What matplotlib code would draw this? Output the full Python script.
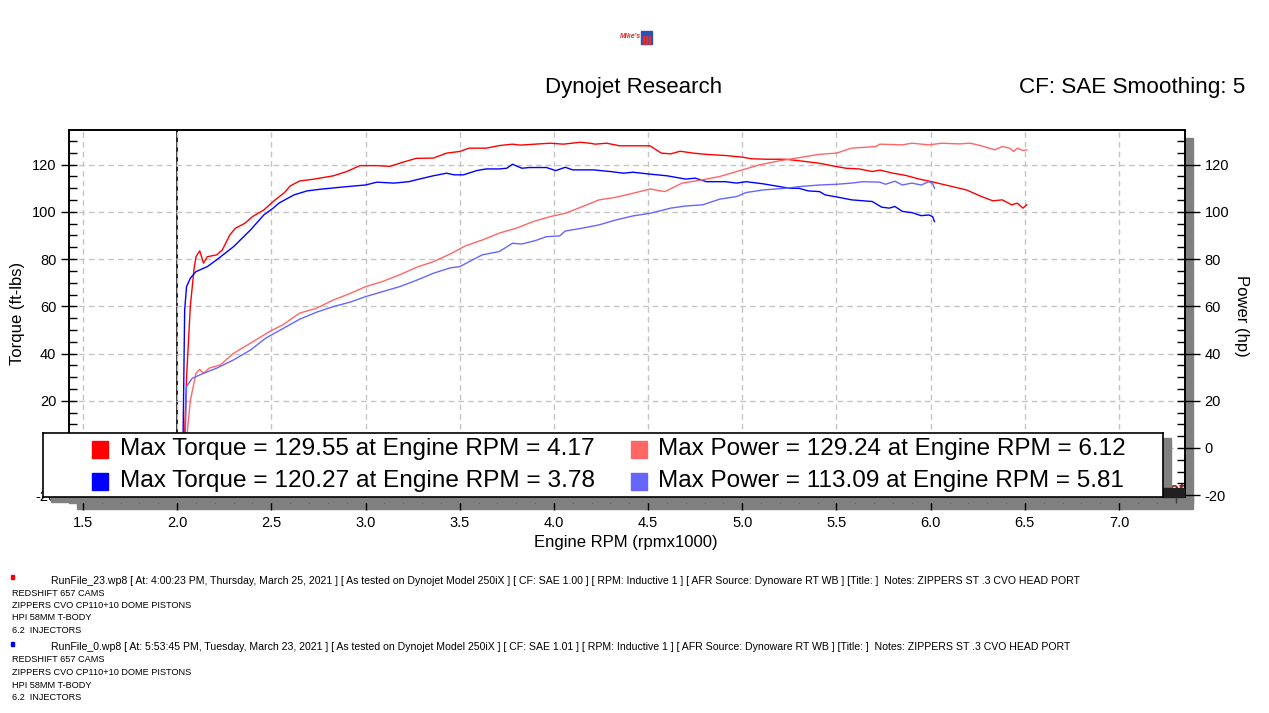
import matplotlib
matplotlib.use('Agg')
import matplotlib.pyplot as plt
from matplotlib.patches import Rectangle
from matplotlib.ticker import MultipleLocator

plt.rcParams['font.family'] = ['Liberation Sans', 'DejaVu Sans']
plt.rcParams['axes.unicode_minus'] = False

# ---- run 1 (red) : RunFile_23 ----
rpm_tq1 = [2.035, 2.05, 2.07, 2.09, 2.10, 2.12, 2.14, 2.16, 2.21, 2.24, 2.28, 2.31, 2.36, 2.40, 2.46,
           2.51, 2.54, 2.57, 2.60, 2.65, 2.72, 2.83, 2.90, 2.97, 3.06, 3.13, 3.20, 3.27, 3.36, 3.43,
           3.50, 3.55, 3.64, 3.71, 3.78, 3.82, 3.90, 3.98, 4.05, 4.14, 4.19, 4.22, 4.28, 4.35, 4.51,
           4.57, 4.62, 4.67, 4.74, 4.82, 4.91, 5.00, 5.05, 5.14, 5.23, 5.32, 5.41, 5.50, 5.55, 5.62,
           5.69, 5.73, 5.80, 5.87, 5.94, 6.01, 6.10, 6.19, 6.27, 6.33, 6.38, 6.43, 6.46, 6.49, 6.51]
tq1 = [-5, 30, 60, 76, 81, 83.5, 78.3, 81, 81.8, 83.9, 90.3, 93.1, 95.2, 98, 100.8,
       104.4, 106.3, 108.2, 111, 113.1, 113.8, 115.3, 117.1, 119.6, 119.6, 119.3, 121.1, 122.7, 122.8, 124.9,
       125.6, 127, 127, 128.1, 128.7, 128.3, 128.7, 129.1, 128.7, 129.5, 129.1, 128.7, 129.1, 128, 128,
       124.9, 124.6, 125.7, 124.9, 124.3, 123.9, 123.2, 122.5, 122.3, 122.3, 121.5, 120.6, 119.2, 118.5, 118.2,
       117.1, 117.7, 116.4, 115.4, 113.9, 112.7, 111, 109.3, 106.5, 104.7, 105.1, 103, 103.7, 101.6, 103]

rpm_hp1 = [2.04, 2.07, 2.10, 2.12, 2.14, 2.17, 2.23, 2.30, 2.39, 2.49, 2.56, 2.65, 2.74, 2.83, 2.92,
           3.00, 3.09, 3.18, 3.27, 3.36, 3.45, 3.53, 3.62, 3.71, 3.80, 3.89, 3.98, 4.06, 4.15, 4.24,
           4.33, 4.42, 4.51, 4.59, 4.68, 4.79, 4.88, 5.00, 5.09, 5.20, 5.28, 5.41, 5.50, 5.58, 5.71,
           5.73, 5.85, 5.90, 5.99, 6.06, 6.15, 6.21, 6.27, 6.34, 6.38, 6.42, 6.44, 6.46, 6.49, 6.51]
hp1 = [-5, 20, 31.6, 33.3, 31.6, 33.8, 35.2, 40.1, 44.4, 49.3, 52.1, 57.1, 59.2, 62.7, 65.5,
       68.3, 70.5, 73.3, 76.5, 78.9, 82.2, 85.6, 88.1, 91, 93.1, 95.9, 98, 99.4, 102.2, 105.1,
       106.2, 107.9, 109.7, 108.6, 112.2, 113.6, 115, 117.8, 119.9, 121.7, 122.7, 124.4, 124.9, 127, 127.7,
       128.7, 128.4, 129.1, 128.4, 129.1, 128.8, 129.1, 128, 126.3, 127.7, 127, 125.6, 127, 126, 126.3]

# ---- run 2 (blue) : RunFile_0 ----
rpm_tq2 = [2.03, 2.04, 2.05, 2.07, 2.10, 2.16, 2.21, 2.30, 2.39, 2.46, 2.51, 2.54, 2.62, 2.69, 2.76,
           2.90, 3.00, 3.06, 3.15, 3.23, 3.29, 3.36, 3.43, 3.47, 3.52, 3.59, 3.64, 3.71, 3.75, 3.78,
           3.83, 3.87, 3.96, 4.01, 4.06, 4.10, 4.21, 4.30, 4.37, 4.42, 4.51, 4.60, 4.70, 4.75, 4.81,
           4.91, 4.97, 5.02, 5.11, 5.20, 5.25, 5.30, 5.35, 5.41, 5.44, 5.51, 5.58, 5.69, 5.74, 5.78,
           5.81, 5.85, 5.90, 5.95, 5.99, 6.01, 6.02]
tq2 = [-5, 58.5, 68.3, 71.9, 74.7, 76.8, 79.7, 85.3, 92.4, 98.7, 101.6, 103.7, 107.2, 108.9, 109.6,
       110.7, 111.4, 112.6, 112.2, 112.8, 114, 115.3, 116.4, 115.7, 115.7, 117.5, 118.2, 118.2, 118.5, 120.2,
       118.5, 118.8, 118.8, 117.5, 118.9, 117.8, 117.8, 117.1, 116.4, 116.8, 116, 115.3, 113.9, 114.3, 112.8,
       112.8, 112.2, 112.8, 111.9, 110.7, 110, 110, 108.9, 108.6, 107.2, 106.2, 105.1, 104.4, 102, 101.6,
       102.3, 100.2, 99.7, 98.4, 98.7, 98, 95.9]

rpm_hp2 = [2.04, 2.05, 2.08, 2.14, 2.21, 2.30, 2.39, 2.47, 2.56, 2.65, 2.74, 2.83, 2.92, 3.00, 3.09,
           3.18, 3.27, 3.36, 3.45, 3.50, 3.55, 3.62, 3.71, 3.78, 3.83, 3.90, 3.96, 4.03, 4.06, 4.15,
           4.24, 4.33, 4.42, 4.51, 4.62, 4.70, 4.79, 4.88, 4.97, 5.02, 5.11, 5.23, 5.30, 5.41, 5.50,
           5.58, 5.64, 5.73, 5.76, 5.81, 5.85, 5.90, 5.95, 5.99, 6.01, 6.02]
hp2 = [-5, 26, 29.5, 31.6, 33.8, 37.3, 41.5, 46.5, 50.5, 54.5, 57.5, 59.9, 61.8, 64.1, 66.2,
       68.3, 71, 74, 76.3, 76.8, 78.9, 81.8, 83.2, 86.7, 86.4, 87.8, 89.5, 89.8, 91.9, 93.1,
       94.5, 96.6, 98.3, 99.4, 101.6, 102.5, 103, 105.4, 106.5, 108.2, 109.3, 110, 110.7, 111.4, 111.7,
       112.2, 112.8, 112.6, 111.7, 113, 111.4, 112.2, 111.4, 112.8, 112.2, 110]

# legend values (as reported by the dyno software)
max_tq = ['129.55', '120.27']
max_tq_rpm = ['4.17', '3.78']
max_hp = ['129.24', '113.09']
max_hp_rpm = ['6.12', '5.81']

run_colors = ['#ff0000', '#0000ff']
hp_colors = ['#ff6666', '#6666ff']

run_headers = [
    'RunFile_23.wp8 [ At: 4:00:23 PM, Thursday, March 25, 2021 ] [ As tested on Dynojet Model 250iX ] [ CF: SAE 1.00 ] '
    '[ RPM: Inductive 1 ] [ AFR Source: Dynoware RT WB ] [Title: ]  Notes: ZIPPERS ST .3 CVO HEAD PORT',
    'RunFile_0.wp8 [ At: 5:53:45 PM, Tuesday, March 23, 2021 ] [ As tested on Dynojet Model 250iX ] [ CF: SAE 1.01 ] '
    '[ RPM: Inductive 1 ] [ AFR Source: Dynoware RT WB ] [Title: ]  Notes: ZIPPERS ST .3 CVO HEAD PORT',
]
run_notes = ['REDSHIFT 657 CAMS', 'ZIPPERS CVO CP110+10 DOME PISTONS', 'HPI 58MM T-BODY', '6.2  INJECTORS']

W, H = 1269, 713


def fx(x):
    return x / W


def fy(y):
    return 1 - y / H


def fig_rect(x0, y0, x1, y1, color, z):
    # rectangle given in pixel coords (top-left origin)
    fig.patches.append(Rectangle((fx(x0), fy(y1)), (x1 - x0) / W, (y1 - y0) / H,
                                 transform=fig.transFigure, color=color, zorder=z))


fig = plt.figure(figsize=(W / 100, H / 100), dpi=100)

# small shop logo at the top
fig_rect(641, 31, 652, 44, '#3050b0', 1)
for k in range(3):
    fig_rect(643 + 3 * k, 36, 644.5 + 3 * k, 44, '#e03030', 2)
fig.text(fx(630), fy(37), "Mike's", ha='center', va='center', fontsize=5,
         color='#d03030', style='italic', fontweight='bold')

# grey drop shadows behind the plot frame
fig_rect(77, 138, 1193, 509, '#808080', -2)
fig_rect(69, 497, 1193, 503, '#808080', -2)

ax = fig.add_axes([fx(69), fy(497), (1185 - 69) / W, (497 - 130) / H])
ax2 = ax.twinx()
for a in (ax, ax2):
    a.set_xlim(1.426, 7.35)
    a.set_ylim(-20.8, 134.7)
    a.yaxis.set_major_locator(MultipleLocator(20))
    a.yaxis.set_minor_locator(MultipleLocator(5))
    a.yaxis.remove_overlapping_locs = False
    for s in a.spines.values():
        s.set_linewidth(1.2)

ax.xaxis.set_major_locator(MultipleLocator(0.5))
ax.xaxis.set_minor_locator(MultipleLocator(0.1))
ax.grid(True, which='major', linestyle=(0, (4, 3)), color='#c4c4c4', linewidth=1)
ax.axvline(2.0, color='black', linewidth=1.2, zorder=1)

# dynojet watermark in the lower right corner (mostly hidden by the legend)
ax.text(1.0, 0.0, 'dynojet', transform=ax.transAxes, ha='right', va='bottom',
        fontsize=12, color='#8b1a1a', style='italic', fontweight='bold', zorder=1)

ax.plot(rpm_tq1, tq1, color=run_colors[0], linewidth=1.0, zorder=3)
ax.plot(rpm_tq2, tq2, color=run_colors[1], linewidth=1.0, zorder=3)
ax2.plot(rpm_hp1, hp1, color=hp_colors[0], linewidth=1.0)
ax2.plot(rpm_hp2, hp2, color=hp_colors[1], linewidth=1.0)

ax.tick_params(axis='y', which='major', direction='out', length=6, width=1, labelsize=10.5, pad=3)
ax.tick_params(axis='y', which='minor', direction='in', length=6, width=1)
ax2.tick_params(axis='y', which='major', direction='out', length=11, width=1, labelsize=10.5, pad=3)
ax2.tick_params(axis='y', which='minor', direction='in', length=6, width=1)
ax.tick_params(axis='x', which='major', direction='out', length=9.5, width=1, labelsize=10.5, pad=4)
ax.tick_params(axis='x', which='minor', direction='out', length=4, width=1, color='#404040')

fig.text(fx(18), fy(313), 'Torque (ft-lbs)', rotation=90, ha='center', va='center', fontsize=12)
fig.text(fx(1242), fy(316), 'Power (hp)', rotation=270, ha='center', va='center', fontsize=12)
fig.text(fx(626), fy(543), 'Engine RPM (rpmx1000)', ha='center', va='center', fontsize=12)

fig.text(fx(634), fy(87), 'Dynojet Research', ha='center', va='center', fontsize=16)
fig.text(fx(1245), fy(87), 'CF: SAE Smoothing: 5', ha='right', va='center', fontsize=16.2)

# legend box with its own shadow
fig_rect(51, 438, 1171, 502, '#808080', 4)
fig_rect(1163, 488, 1184, 497, '#202020', 4)
leg = fig.add_axes([fx(43), fy(497), 1120 / W, 64 / H], zorder=5)
leg.set_xlim(0, 1120)
leg.set_ylim(64, 0)
leg.set_xticks([])
leg.set_yticks([])
for s in leg.spines.values():
    s.set_linewidth(1.2)
for i in range(2):
    yc = 16 + 32 * i
    leg.add_patch(Rectangle((49, yc - 8.5), 16, 17, color=run_colors[i]))
    leg.text(77, yc, 'Max Torque = %s at Engine RPM = %s' % (max_tq[i], max_tq_rpm[i]),
             va='center', fontsize=17.6)
    leg.add_patch(Rectangle((588, yc - 8.5), 16, 17, color=hp_colors[i]))
    leg.text(615, yc, 'Max Power = %s at Engine RPM = %s' % (max_hp[i], max_hp_rpm[i]),
             va='center', fontsize=17.5)

# run file notes at the bottom
for i in range(2):
    y0 = 580.5 + 67 * i
    fig_rect(10.7, y0 - 6, 14.3, y0 - 2, run_colors[i], 1)
    fig.text(fx(51), fy(y0), run_headers[i], va='center', fontsize=7.6)
    for j, note in enumerate(run_notes):
        fig.text(fx(12), fy(y0 + 12.5 * (j + 1)), note, va='center', fontsize=6.6)

fig.savefig('out.png', dpi=100)
